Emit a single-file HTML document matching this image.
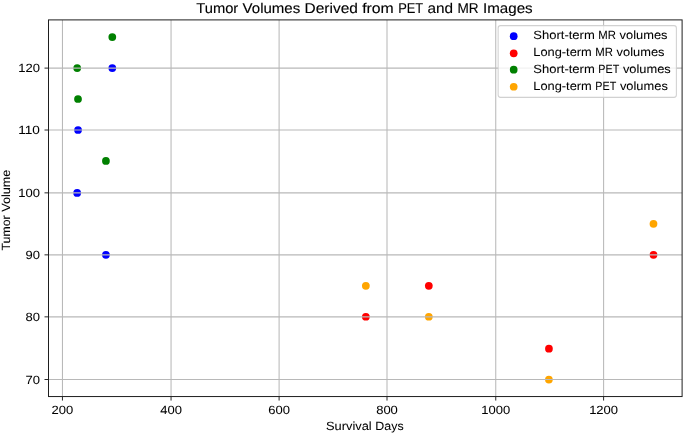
<!DOCTYPE html>
<html><head><meta charset="utf-8"><title>Tumor Volumes Derived from PET and MR Images</title>
<style>
html,body{margin:0;padding:0;background:#fff;}
body{width:685px;height:434px;overflow:hidden;font-family:"Liberation Sans",sans-serif;}
svg{display:block;will-change:transform;}
text{font-family:"Liberation Sans",sans-serif;fill:#000000;text-rendering:geometricPrecision;stroke:#000000;stroke-width:0.05px;}
.ttl text{stroke:#000000;stroke-width:0.12px;}
</style></head><body>
<svg width="685" height="434" viewBox="0 0 685 434">
<rect x="0" y="0" width="685" height="434" fill="#ffffff"/>
<g id="dots">
<circle cx="77.16" cy="192.90" r="3.87" fill="#0000ff"/>
<circle cx="78.05" cy="130.00" r="3.87" fill="#0000ff"/>
<circle cx="112.30" cy="68.10" r="3.87" fill="#0000ff"/>
<circle cx="105.93" cy="254.85" r="3.87" fill="#0000ff"/>
<circle cx="365.85" cy="316.75" r="3.87" fill="#ff0000"/>
<circle cx="428.82" cy="285.85" r="3.87" fill="#ff0000"/>
<circle cx="548.95" cy="348.65" r="3.87" fill="#ff0000"/>
<circle cx="653.50" cy="254.85" r="3.87" fill="#ff0000"/>
<circle cx="77.20" cy="68.10" r="3.87" fill="#008000"/>
<circle cx="78.00" cy="99.00" r="3.87" fill="#008000"/>
<circle cx="112.30" cy="37.04" r="3.87" fill="#008000"/>
<circle cx="105.93" cy="160.96" r="3.87" fill="#008000"/>
<circle cx="365.85" cy="285.85" r="3.87" fill="#ffa500"/>
<circle cx="428.82" cy="316.75" r="3.87" fill="#ffa500"/>
<circle cx="548.90" cy="379.55" r="3.87" fill="#ffa500"/>
<circle cx="653.48" cy="223.80" r="3.87" fill="#ffa500"/>
</g>
<g id="grid" stroke="#b8b8b8" stroke-width="1.05" fill="none">
<line x1="62.45" y1="19.9" x2="62.45" y2="396.55"/>
<line x1="171.05" y1="19.9" x2="171.05" y2="396.55"/>
<line x1="279.10" y1="19.9" x2="279.10" y2="396.55"/>
<line x1="387.00" y1="19.9" x2="387.00" y2="396.55"/>
<line x1="495.75" y1="19.9" x2="495.75" y2="396.55"/>
<line x1="603.60" y1="19.9" x2="603.60" y2="396.55"/>
<line x1="48.5" y1="379.50" x2="682.1" y2="379.50"/>
<line x1="48.5" y1="316.85" x2="682.1" y2="316.85"/>
<line x1="48.5" y1="254.85" x2="682.1" y2="254.85"/>
<line x1="48.5" y1="192.85" x2="682.1" y2="192.85"/>
<line x1="48.5" y1="130.03" x2="682.1" y2="130.03"/>
<line x1="48.5" y1="68.10" x2="682.1" y2="68.10"/>
</g>
<g id="ticks" stroke="#1e1e1e" stroke-width="0.95" fill="none">
<line x1="62.45" y1="396.55" x2="62.45" y2="400.55"/>
<line x1="171.05" y1="396.55" x2="171.05" y2="400.55"/>
<line x1="279.10" y1="396.55" x2="279.10" y2="400.55"/>
<line x1="387.00" y1="396.55" x2="387.00" y2="400.55"/>
<line x1="495.75" y1="396.55" x2="495.75" y2="400.55"/>
<line x1="603.60" y1="396.55" x2="603.60" y2="400.55"/>
<line x1="44.50" y1="379.50" x2="48.5" y2="379.50"/>
<line x1="44.50" y1="316.85" x2="48.5" y2="316.85"/>
<line x1="44.50" y1="254.85" x2="48.5" y2="254.85"/>
<line x1="44.50" y1="192.85" x2="48.5" y2="192.85"/>
<line x1="44.50" y1="130.03" x2="48.5" y2="130.03"/>
<line x1="44.50" y1="68.10" x2="48.5" y2="68.10"/>
</g>
<rect x="48.5" y="19.9" width="633.60" height="376.65" fill="none" stroke="#1e1e1e" stroke-width="1.0"/>
<g id="ticklabels">
<text x="51.63" y="413.60" font-size="11.9" textLength="21.64" lengthAdjust="spacingAndGlyphs">200</text>
<text x="160.23" y="413.60" font-size="11.9" textLength="21.64" lengthAdjust="spacingAndGlyphs">400</text>
<text x="268.28" y="413.60" font-size="11.9" textLength="21.64" lengthAdjust="spacingAndGlyphs">600</text>
<text x="376.18" y="413.60" font-size="11.9" textLength="21.64" lengthAdjust="spacingAndGlyphs">800</text>
<text x="481.32" y="413.60" font-size="11.9" textLength="28.86" lengthAdjust="spacingAndGlyphs">1000</text>
<text x="589.17" y="413.60" font-size="11.9" textLength="28.86" lengthAdjust="spacingAndGlyphs">1200</text>
<text x="25.47" y="384.00" font-size="11.9" textLength="14.43" lengthAdjust="spacingAndGlyphs">70</text>
<text x="25.47" y="321.00" font-size="11.9" textLength="14.43" lengthAdjust="spacingAndGlyphs">80</text>
<text x="25.47" y="259.00" font-size="11.9" textLength="14.43" lengthAdjust="spacingAndGlyphs">90</text>
<text x="18.26" y="197.00" font-size="11.9" textLength="21.64" lengthAdjust="spacingAndGlyphs">100</text>
<text x="18.26" y="134.00" font-size="11.9" textLength="21.64" lengthAdjust="spacingAndGlyphs">110</text>
<text x="18.26" y="72.00" font-size="11.9" textLength="21.64" lengthAdjust="spacingAndGlyphs">120</text>
</g>
<text x="325.99" y="429.70" font-size="11.9" textLength="45.72" lengthAdjust="spacingAndGlyphs">Survival</text><text x="375.31" y="429.70" font-size="11.9" textLength="28.30" lengthAdjust="spacingAndGlyphs">Days</text>
<g transform="translate(10.0,210.07) rotate(-90)"><text x="-40.41" y="0.00" font-size="11.9" textLength="35.04" lengthAdjust="spacingAndGlyphs">Tumor</text><text x="-1.77" y="0.00" font-size="11.9" textLength="42.18" lengthAdjust="spacingAndGlyphs">Volume</text></g>
<g class="ttl"><text x="196.25" y="13.00" font-size="14.2" textLength="42.02" lengthAdjust="spacingAndGlyphs">Tumor</text><text x="242.59" y="13.00" font-size="14.2" textLength="57.67" lengthAdjust="spacingAndGlyphs">Volumes</text><text x="304.58" y="13.00" font-size="14.2" textLength="53.26" lengthAdjust="spacingAndGlyphs">Derived</text><text x="362.16" y="13.00" font-size="14.2" textLength="31.65" lengthAdjust="spacingAndGlyphs">from</text><text x="398.13" y="13.00" font-size="14.2" textLength="25.10" lengthAdjust="spacingAndGlyphs">PET</text><text x="427.56" y="13.00" font-size="14.2" textLength="25.59" lengthAdjust="spacingAndGlyphs">and</text><text x="457.47" y="13.00" font-size="14.2" textLength="21.18" lengthAdjust="spacingAndGlyphs">MR</text><text x="482.98" y="13.00" font-size="14.2" textLength="49.68" lengthAdjust="spacingAndGlyphs">Images</text></g>
<rect x="498.15" y="25.61" width="178.23" height="71.74" rx="2.3" ry="2.3" fill="#ffffff" fill-opacity="0.8" stroke="#cccccc" stroke-opacity="0.9" stroke-width="1.05"/>
<circle cx="513.7" cy="36.2" r="3.87" fill="#0000ff"/>
<text x="533.30" y="39.00" font-size="11.9" textLength="61.46" lengthAdjust="spacingAndGlyphs">Short-term</text><text x="598.36" y="39.00" font-size="11.9" textLength="17.66" lengthAdjust="spacingAndGlyphs">MR</text><text x="619.63" y="39.00" font-size="11.9" textLength="47.92" lengthAdjust="spacingAndGlyphs">volumes</text>
<circle cx="513.7" cy="53.3" r="3.87" fill="#ff0000"/>
<text x="533.30" y="56.00" font-size="11.9" textLength="58.47" lengthAdjust="spacingAndGlyphs">Long-term</text><text x="595.37" y="56.00" font-size="11.9" textLength="17.66" lengthAdjust="spacingAndGlyphs">MR</text><text x="616.64" y="56.00" font-size="11.9" textLength="47.92" lengthAdjust="spacingAndGlyphs">volumes</text>
<circle cx="513.7" cy="69.63" r="3.87" fill="#008000"/>
<text x="533.30" y="73.00" font-size="11.9" textLength="61.46" lengthAdjust="spacingAndGlyphs">Short-term</text><text x="598.36" y="73.00" font-size="11.9" textLength="20.93" lengthAdjust="spacingAndGlyphs">PET</text><text x="622.90" y="73.00" font-size="11.9" textLength="47.92" lengthAdjust="spacingAndGlyphs">volumes</text>
<circle cx="513.7" cy="86.75" r="3.87" fill="#ffa500"/>
<text x="533.30" y="90.00" font-size="11.9" textLength="58.47" lengthAdjust="spacingAndGlyphs">Long-term</text><text x="595.37" y="90.00" font-size="11.9" textLength="20.93" lengthAdjust="spacingAndGlyphs">PET</text><text x="619.91" y="90.00" font-size="11.9" textLength="47.92" lengthAdjust="spacingAndGlyphs">volumes</text>
</svg>
</body></html>
